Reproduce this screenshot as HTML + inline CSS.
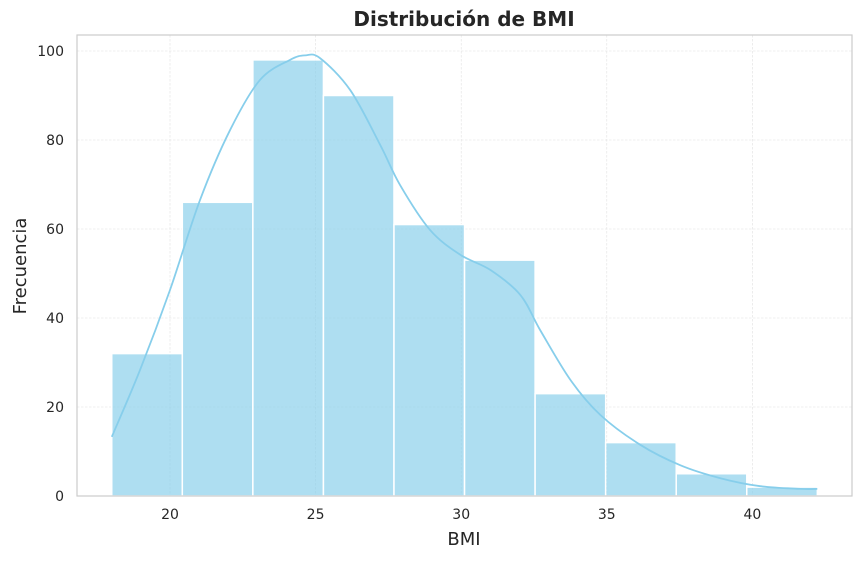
<!DOCTYPE html>
<html><head><meta charset="utf-8"><style>
body{margin:0;background:#fff;font-family:"DejaVu Sans","Liberation Sans",sans-serif;}
</style></head><body>
<svg id="chart" width="861" height="559" xmlns="http://www.w3.org/2000/svg">
<rect x="0" y="0" width="861" height="559" fill="#fff"/>
<text x="464" y="26" text-anchor="middle" font-size="20" font-weight="bold" fill="#262626">Distribución de BMI</text>
<g id="grid"></g>
<g id="bars"></g>
<g id="kde"></g>
<rect x="77" y="35" width="775" height="461" fill="none" stroke="#cccccc" stroke-width="1.2"/>
<g id="ticks"></g>
<text x="464" y="545" text-anchor="middle" font-size="18" fill="#262626">BMI</text>
<text x="26" y="266" text-anchor="middle" font-size="18" fill="#262626" transform="rotate(-90 26 266)">Frecuencia</text>
</svg>
<script>
const binStart = 18.0;
const binWidth = 2.423;
const counts = [32, 66, 98, 90, 61, 53, 23, 12, 5, 2];
const xTicks = [20, 25, 30, 35, 40];
const yTicks = [0, 20, 40, 60, 80, 100];
const kdeX = [18.0,18.97,20,21.03,22.06,23.09,24.12,24.64,25.15,26.19,27.22,27.9,28.93,29.97,31,32.03,32.71,33.75,34.78,36.15,37.53,38.9,40.27,41.65,42.23];
const kdeY = [13.3,28.3,46.3,66.5,82.2,93.5,98,99,98.4,91.2,78.9,69.9,59.8,54.2,50.8,45.2,37.3,26.1,18.2,11.5,6.9,4.0,2.2,1.6,1.6];

const NS="http://www.w3.org/2000/svg";
const xs = v => 170 + (v-20)*29.12;
const ys = v => 496 - v*4.45;
function mk(tag, attrs, parent){const e=document.createElementNS(NS,tag);for(const k in attrs)e.setAttribute(k,attrs[k]);document.getElementById(parent).appendChild(e);return e;}

xTicks.forEach(t=>{
  const l=mk('line',{x1:xs(t),x2:xs(t),y1:35,y2:496,stroke:'#e0e0e0','stroke-width':0.6,'stroke-dasharray':'2.5,1.5'},'grid');
  
  
  const tx=mk('text',{x:xs(t),y:519,'text-anchor':'middle','font-size':14,fill:'#262626'},'ticks');
  tx.textContent=t;
  
  
});
yTicks.forEach(t=>{
  const l=mk('line',{x1:77,x2:852,y1:ys(t),y2:ys(t),stroke:'#e0e0e0','stroke-width':0.6,'stroke-dasharray':'2.5,1.5'},'grid');
  
  
  const tx=mk('text',{x:64,y:ys(t)+5,'text-anchor':'end','font-size':14,fill:'#262626'},'ticks');
  tx.textContent=t;
  
  
});
counts.forEach((c,i)=>{
  const x0=xs(binStart+i*binWidth), x1=xs(binStart+(i+1)*binWidth);
  const r=mk('rect',{x:x0,y:ys(c),width:x1-x0,height:ys(0)-ys(c),fill:'#87ceeb','fill-opacity':0.68,stroke:'#fff','stroke-width':1.5},'bars');
  
  
});
const P=kdeX.map((v,i)=>[xs(v),ys(kdeY[i])]);
let d='M'+P[0][0].toFixed(1)+','+P[0][1].toFixed(1);
for(let i=0;i<P.length-1;i++){
  const p0=P[Math.max(0,i-1)],p1=P[i],p2=P[i+1],p3=P[Math.min(P.length-1,i+2)];
  const c1=[p1[0]+(p2[0]-p0[0])/6,p1[1]+(p2[1]-p0[1])/6];
  const c2=[p2[0]-(p3[0]-p1[0])/6,p2[1]-(p3[1]-p1[1])/6];
  d+='C'+c1[0].toFixed(1)+','+c1[1].toFixed(1)+' '+c2[0].toFixed(1)+','+c2[1].toFixed(1)+' '+p2[0].toFixed(1)+','+p2[1].toFixed(1);
}
const p=mk('path',{d:d,fill:'none',stroke:'#87ceeb','stroke-width':1.8,'stroke-linejoin':'round'},'kde');


</script>
</body></html>
